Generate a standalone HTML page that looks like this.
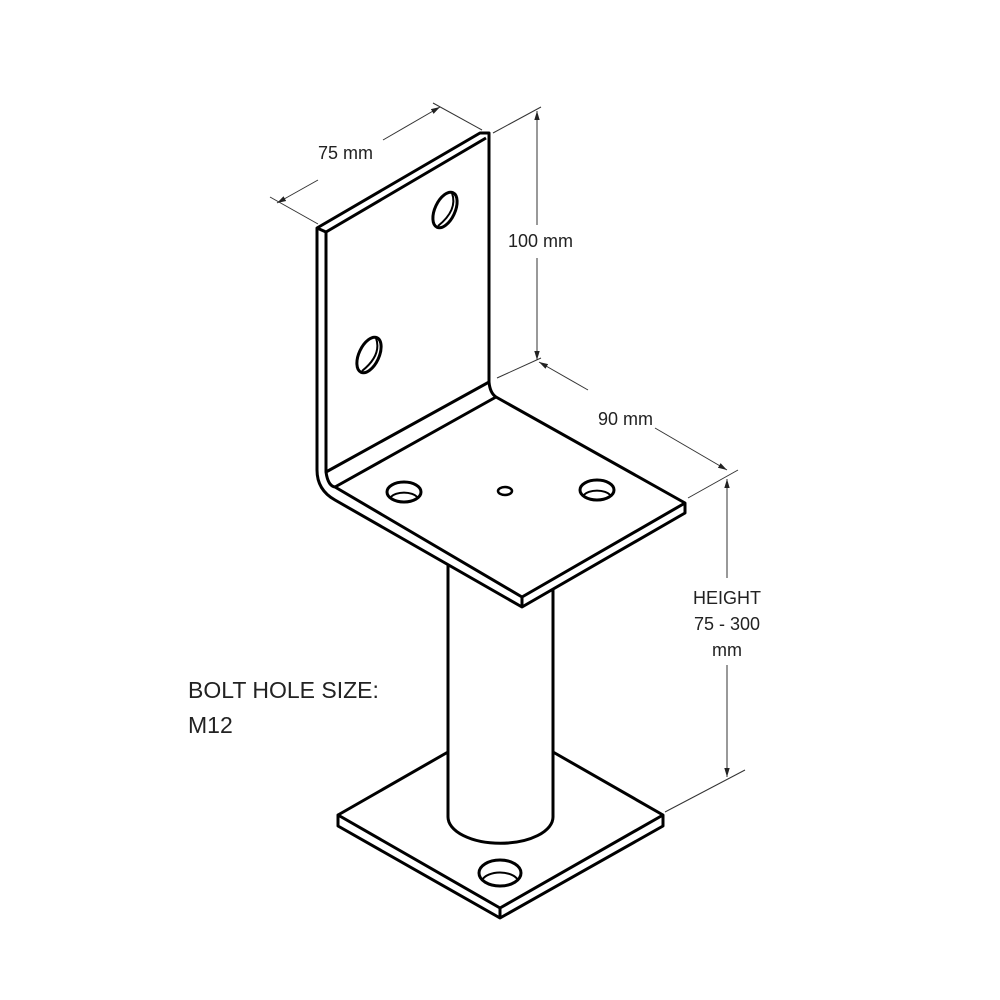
<!DOCTYPE html>
<html><head><style>
html,body{margin:0;padding:0;background:#fff;}
svg{display:block}
text{font-family:"Liberation Sans",Arial,sans-serif;fill:#222;}
</style></head><body>
<svg width="1000" height="1000" viewBox="0 0 1000 1000" xmlns="http://www.w3.org/2000/svg">
<defs>
<marker id="a" viewBox="0 0 10 10" refX="10" refY="5" markerWidth="9" markerHeight="9" orient="auto-start-reverse" markerUnits="userSpaceOnUse"><path d="M0,2 L10,5 L0,8 Z" fill="#222"/></marker>
</defs>
<g fill="#fff" stroke="#000" stroke-width="3" stroke-linejoin="round">
<!-- post -->
<path d="M448,560 L448,817 A52,26 0 0 0 553,817 L553,560 Z"/>
<!-- base plate -->
<path d="M338,815 L448,752 M553,752 L663,815 L663,826 L500,918 L338,826 L338,815 L500,908 L663,815 M500,908 L500,918" fill="none"/>
<ellipse cx="500" cy="873" rx="21" ry="13"/>
<path d="M482,880 A19,11 0 0 1 518,880" fill="none" stroke-width="2"/>
<!-- vertical plate -->
<path d="M317,228 L480,133 L489,133 L489,382 Q490,393 496,397 L685,503 L685,513 L522,607 L335,500 Q317,490 317,470 Z"/>
<path d="M317,228 L326,232 L486,138 M326,232 L326,472 L489,382 M326,472 Q328,486 335,487 L522,597 L685,503 M522,597 L522,607 M335,487 L496,397" fill="none"/>
<!-- holes vertical -->
<ellipse cx="445" cy="210" rx="10" ry="19" transform="rotate(25 445 210)"/>
<path d="M438,226 Q458,210 452,193" fill="none" stroke-width="2"/>
<ellipse cx="369" cy="355" rx="10" ry="19" transform="rotate(25 369 355)"/>
<path d="M362,371 Q382,355 376,338" fill="none" stroke-width="2"/>
<!-- holes base -->
<ellipse cx="404" cy="492" rx="17" ry="10"/>
<path d="M391,497 A14,7 0 0 1 417,497" fill="none" stroke-width="2"/>
<ellipse cx="505" cy="491" rx="7" ry="4" stroke-width="2.5"/>
<ellipse cx="597" cy="490" rx="17" ry="10"/>
<path d="M584,495 A14,7 0 0 1 610,495" fill="none" stroke-width="2"/>
</g>
<g stroke="#333" stroke-width="1" fill="none">
<!-- 75 -->
<line x1="270" y1="197" x2="318" y2="224"/>
<line x1="433" y1="103" x2="482" y2="130"/>
<line x1="318" y1="180" x2="277" y2="203" marker-end="url(#a)"/>
<line x1="383" y1="140" x2="440" y2="107" marker-end="url(#a)"/>
<!-- 100 -->
<line x1="493" y1="133" x2="541" y2="107"/>
<line x1="497" y1="378" x2="541" y2="358"/>
<line x1="537" y1="225" x2="537" y2="111" marker-end="url(#a)"/>
<line x1="537" y1="258" x2="537" y2="360" marker-end="url(#a)"/>
<!-- 90 -->
<line x1="588" y1="390" x2="539" y2="362" marker-end="url(#a)"/>
<line x1="655" y1="428" x2="727" y2="470" marker-end="url(#a)"/>
<line x1="688" y1="498" x2="738" y2="470"/>
<!-- height -->
<line x1="727" y1="578" x2="727" y2="479" marker-end="url(#a)"/>
<line x1="727" y1="665" x2="727" y2="777" marker-end="url(#a)"/>
<line x1="665" y1="812" x2="745" y2="770"/>
</g>
<text x="318" y="159" font-size="18">75 mm</text>
<text x="508" y="247" font-size="18">100 mm</text>
<text x="598" y="425" font-size="18">90 mm</text>
<text x="727" y="604" font-size="18" text-anchor="middle">HEIGHT</text>
<text x="727" y="630" font-size="18" text-anchor="middle">75 - 300</text>
<text x="727" y="656" font-size="18" text-anchor="middle">mm</text>
<text x="188" y="698" font-size="23">BOLT HOLE SIZE:</text>
<text x="188" y="733" font-size="23">M12</text>
</svg>
</body></html>
